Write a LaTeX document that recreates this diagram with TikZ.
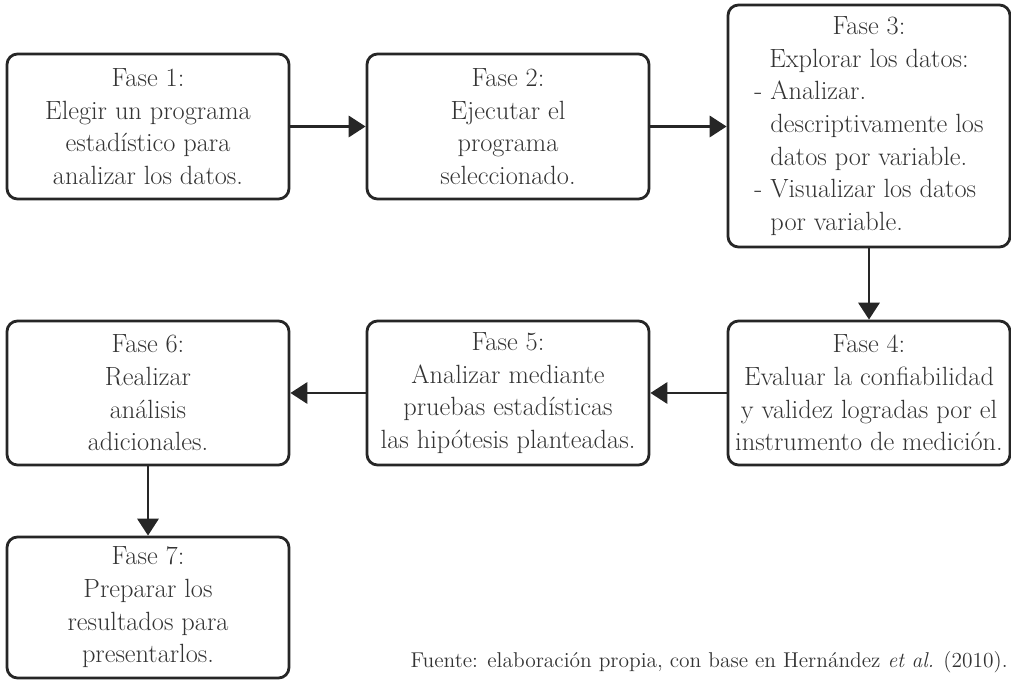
\documentclass[tikz,border=0pt]{standalone}
\usetikzlibrary{arrows.meta}
\tikzset{
  fase/.style={draw=black!85, line width=1.6pt, rounded corners=6pt,
    minimum width=5.64cm, minimum height=2.9cm, align=center, inner sep=2pt,
    text=black!80, font=\fontsize{15}{18.6}\selectfont},
  flecha/.style={draw=black!85, line width=1.6pt, -{Triangle[length=9.6pt,width=12pt]}}
}
\begin{document}
\begin{tikzpicture}[x=1cm,y=1cm]
  \useasboundingbox (0,0) rectangle (20.22,-13.6);
  % first row
  \node[fase] (f1) at (2.96,-2.53) {Fase 1:\\Elegir un programa\\estadístico para\\analizar los datos.};
  \node[fase] (f2) at (10.16,-2.53) {Fase 2:\\Ejecutar el\\programa\\seleccionado.};
  \node[fase, minimum height=4.84cm] (f3) at (17.38,-2.52) {%
    \begin{tabular}{@{}l@{}}
      \multicolumn{1}{c}{Fase 3:}\\
      \multicolumn{1}{c}{Explorar los datos:}\\
      - Analizar.\\
      \phantom{- }descriptivamente los\\
      \phantom{- }datos por variable.\\
      - Visualizar los datos\\
      \phantom{- }por variable.
    \end{tabular}};
  % second row
  \node[fase, minimum height=2.88cm] (f4) at (17.38,-7.86) {Fase 4:\\Evaluar la confiabilidad\\y validez logradas por el\\instrumento de medición.};
  \node[fase, minimum height=2.88cm] (f5) at (10.16,-7.86) {Fase 5:\\Analizar mediante\\pruebas estadísticas\\las hipótesis planteadas.};
  \node[fase, minimum height=2.88cm] (f6) at (2.96,-7.86) {Fase 6:\\Realizar\\análisis\\adicionales.};
  % last box
  \node[fase, minimum height=2.82cm] (f7) at (2.96,-12.15) {Fase 7:\\Preparar los\\resultados para\\presentarlos.};
  \draw[flecha] (f1) -- (f2);
  \draw[flecha] (f2.east) -- (f2.east -| f3.west);
  \draw[flecha] (f3) -- (f4);
  \draw[flecha] (f4) -- (f5);
  \draw[flecha] (f5) -- (f6);
  \draw[flecha] (f6) -- (f7);
  \node[anchor=base east, inner sep=0pt, text=black!80, font=\fontsize{12.2}{15}\selectfont] (fuente) at (20.16,-13.36)
    {Fuente: elaboración propia, con base en Hernández \textit{et al.} (2010).};
\end{tikzpicture}
\end{document}
